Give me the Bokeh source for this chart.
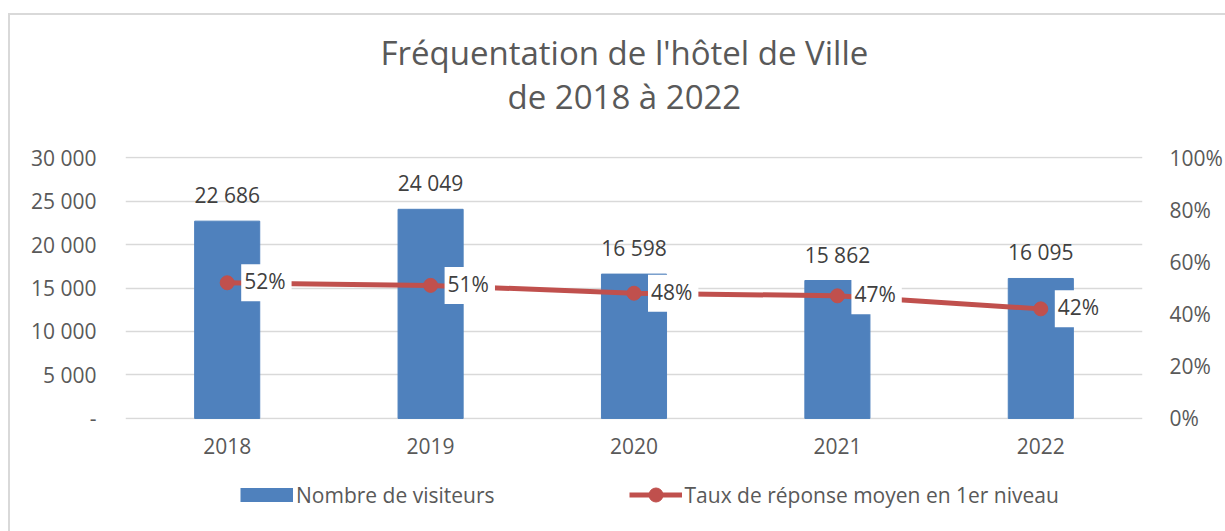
from bokeh.plotting import figure
from bokeh.layouts import column
from bokeh.models import (Range1d, LinearAxis, FactorRange, FixedTicker, Legend, LegendItem, Label)
from bokeh.core.properties import value
from bokeh.embed import file_html
from bokeh.resources import INLINE

years = ["2018", "2019", "2020", "2021", "2022"]
visitors = [22686, 24049, 16598, 15862, 16095]
visitor_labels = ["22 686", "24 049", "16 598", "15 862", "16 095"]
rate = [0.52, 0.51, 0.48, 0.47, 0.42]
rate_labels = ["52%", "51%", "48%", "47%", "42%"]
left_ticks = [0, 5000, 10000, 15000, 20000, 25000, 30000]
left_tick_labels = ["-", "5 000", "10 000", "15 000", "20 000", "25 000", "30 000"]
right_ticks = [0, 0.2, 0.4, 0.6, 0.8, 1.0]
right_tick_labels = ["0%", "20%", "40%", "60%", "80%", "100%"]
title_lines = ["Fréquentation de l'hôtel de Ville", "de 2018 à 2022"]
series_names = ["Nombre de visiteurs", "Taux de réponse moyen en 1er niveau"]

FONT = value("Open Sans")
GREY = "#595959"
DARK = "#404040"
BLUE = "#4F81BD"
RED = "#C0504D"
W = 1215


def strip(h):
    f = figure(width=W, height=h, x_range=Range1d(0, W), y_range=Range1d(0, h),
               x_axis_type=None, y_axis_type=None, output_backend="svg", toolbar_location=None,
               min_border=0)
    f.outline_line_color = None
    return f


# ---- title strip
p_title = strip(110)
for txt, ty in zip(title_lines, [73, 29]):
    p_title.add_layout(Label(x=596, y=ty, text=txt, text_align="center", text_baseline="alphabetic",
                             text_font="Open Sans", text_font_size="33px", text_color=GREY))

# ---- main chart
p = figure(width=W, height=346, x_range=FactorRange(*years), y_range=Range1d(-120, 30120),
           output_backend="svg", toolbar_location=None,
           min_border_left=115, min_border_right=80, min_border_top=31, min_border_bottom=52)
p.extra_y_ranges = {"pct": Range1d(-0.004, 1.004)}
p.outline_line_color = None
p.xgrid.grid_line_color = None
p.ygrid.grid_line_color = "#D9D9D9"
p.ygrid.grid_line_width = 1.5
p.ygrid.ticker = FixedTicker(ticks=left_ticks)

yl = p.yaxis[0]
yl.ticker = FixedTicker(ticks=left_ticks)
yl.major_label_overrides = dict(zip(left_ticks, left_tick_labels))
yl.major_label_standoff = 23

yr = LinearAxis(y_range_name="pct", ticker=FixedTicker(ticks=right_ticks))
yr.major_label_overrides = dict(zip(right_ticks, right_tick_labels))
yr.major_label_standoff = 21
p.add_layout(yr, "right")

p.xaxis.major_label_standoff = 12
for ax in [yl, yr, p.xaxis[0]]:
    ax.axis_line_color = None
    ax.major_tick_line_color = None
    ax.minor_tick_line_color = None
    ax.major_label_text_font = "Open Sans"
    ax.major_label_text_font_size = "21px"
    ax.major_label_text_color = GREY

p.vbar(x=years, top=visitors, width=0.32, color=BLUE)
p.line(x=years, y=rate, y_range_name="pct", line_color=RED, line_width=5)
p.scatter(x=years, y=rate, y_range_name="pct", size=14, color=RED)

p.text(x=years, y=visitors, text=visitor_labels, text_align="center", text_baseline="alphabetic",
       y_offset=-26, text_font=FONT, text_font_size="21px", text_color=DARK)
p.text(x=years, y=rate, text=rate_labels, y_range_name="pct", text_align="left",
       text_baseline="middle", x_offset=14, text_font=FONT, text_font_size="21px", text_color=DARK,
       background_fill_color="white", padding=(3, 6, 3, 6))

# ---- legend strip (swatches draw nothing in the strip itself)
p_leg = strip(60)
sw_bar = p_leg.line(x=[0], y=[float("nan")], line_color=BLUE, line_width=14)
sw_line = p_leg.line(x=[0], y=[float("nan")], line_color=RED, line_width=5)
sw_dot = p_leg.scatter(x=[0], y=[float("nan")], size=14, color=RED)
legend = Legend(items=[LegendItem(label=series_names[0], renderers=[sw_bar]),
                       LegendItem(label=series_names[1], renderers=[sw_line, sw_dot])],
                location=(115, 19), orientation="horizontal", spacing=134,
                glyph_width=53, glyph_height=35, label_height=28, padding=0, margin=0,
                border_line_color=None, background_fill_alpha=0,
                label_text_font="Open Sans", label_text_font_size="21px", label_text_color=GREY,
                label_standoff=3)
p_leg.add_layout(legend)

layout = column(p_title, p, p_leg, spacing=0,
                styles={"margin-left": "8px", "margin-top": "13px",
                        "border-left": "2px solid #D9D9D9", "border-top": "2px solid #D9D9D9"})

open("out.html", "w").write(file_html(layout, INLINE))
